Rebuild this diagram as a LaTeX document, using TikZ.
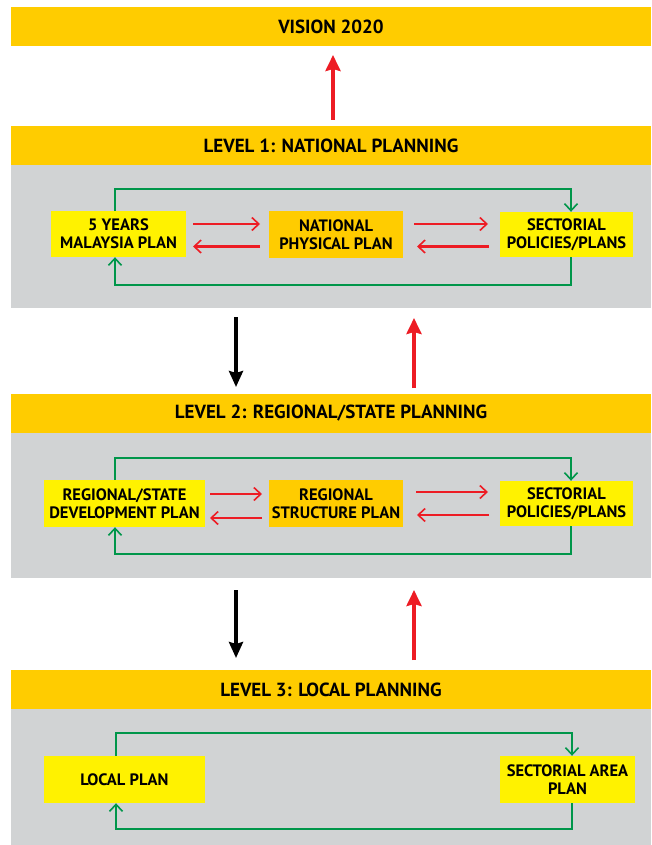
\documentclass[tikz,border=0pt]{standalone}
\usepackage{fontspec}
\setmainfont{PT Sans}
\usetikzlibrary{arrows.meta}
\definecolor{gold}{HTML}{FFCC00}
\definecolor{ylw}{HTML}{FFF200}
\definecolor{panel}{HTML}{D1D3D4}
\definecolor{grn}{HTML}{00964A}
\definecolor{rd}{HTML}{ED1C24}
\begin{document}
\begin{tikzpicture}[x=1pt,y=-1pt,
  header/.style={fill=gold,minimum width=640pt,minimum height=39pt,inner sep=0pt,font=\bfseries\fontsize{19}{22}\selectfont},
  panelbox/.style={fill=panel},
  planbox/.style={fill=ylw,inner sep=0pt,align=center,font=\bfseries\fontsize{16.5}{18}\selectfont},
  goldbox/.style={planbox,fill=gold},
  gline/.style={draw=grn,line width=2.3pt,-{Straight Barb[length=7pt,width=13pt,line width=1.6pt]}},
  rline/.style={draw=rd,line width=2.3pt,-{Straight Barb[length=7pt,width=13pt,line width=1.6pt]}},
  bigred/.style={draw=rd,line width=4.5pt,-{Stealth[length=16pt,width=15pt,inset=2pt]}},
  bigblack/.style={draw=black,line width=4.5pt,-{Stealth[length=16pt,width=14pt,inset=2pt]}}
]
\useasboundingbox[fill=white] (0,0) rectangle (652,845);
% headers and panels
\node[header] (vision) at (331,27) {VISION 2020};
\node[header] (h1) at (331,145.5) {LEVEL 1: NATIONAL PLANNING};
\fill[panelbox] (11,165) rectangle (651,308);
\node[header] (h2) at (331,413.5) {LEVEL 2: REGIONAL/STATE PLANNING};
\fill[panelbox] (11,433) rectangle (651,578);
\node[header] (h3) at (331,689.5) {LEVEL 3: LOCAL PLANNING};
\fill[panelbox] (11,709) rectangle (651,845);
% level 1
\node[planbox,minimum width=135pt,minimum height=46pt] (a1) at (118.5,234) {5 YEARS\\MALAYSIA PLAN};
\node[goldbox,minimum width=134pt,minimum height=47pt] (a2) at (336,234.5) {NATIONAL\\PHYSICAL PLAN};
\node[planbox,minimum width=133pt,minimum height=45pt] (a3) at (566.5,234.5) {SECTORIAL\\POLICIES/PLANS};
\coordinate (a1t) at (193,224); \coordinate (a2tl) at (260,224);
\coordinate (a1b) at (193,246.5); \coordinate (a2bl) at (260,246.5);
\coordinate (a2tr) at (414,224); \coordinate (a3t) at (488,224);
\coordinate (a2br) at (417,246.5); \coordinate (a3b) at (489,246.5);
\draw[rline] (a1t) -- (a2tl);
\draw[rline] (a2bl) -- (a1b);
\draw[rline] (a2tr) -- (a3t);
\draw[rline] (a3b) -- (a2br);
\coordinate (g1tl) at (115,189); \coordinate (g1tr) at (571,189);
\coordinate (g1bl) at (115,285); \coordinate (g1br) at (571,285);
\draw[gline] (a1.north -| g1tl) -- (g1tl) -- (g1tr) -- (a3.north -| g1tr);
\draw[gline] (a3.south -| g1br) -- (g1br) -- (g1bl) -- (a1.south -| g1bl);
% between level 1 and vision / level 2
\coordinate (v0) at (333,120); \coordinate (v1) at (333,55);
\draw[bigred] (v0) -- (v1);
\coordinate (d1s) at (236,317); \coordinate (d1e) at (236,387);
\draw[bigblack] (d1s) -- (d1e);
\coordinate (u1s) at (414,388); \coordinate (u1e) at (414,318);
\draw[bigred] (u1s) -- (u1e);
% level 2
\node[planbox,minimum width=161pt,minimum height=47pt] (b1) at (124.5,503.5) {REGIONAL/STATE\\DEVELOPMENT PLAN};
\node[goldbox,minimum width=134pt,minimum height=47pt] (b2) at (336,503.5) {REGIONAL\\STRUCTURE PLAN};
\node[planbox,minimum width=133pt,minimum height=45pt] (b3) at (566.5,503.5) {SECTORIAL\\POLICIES/PLANS};
\coordinate (b1t) at (210,494); \coordinate (b2tl) at (262,494);
\coordinate (b1b) at (210,518); \coordinate (b2bl) at (262,518);
\coordinate (b2tr) at (416,492); \coordinate (b3t) at (488,492);
\coordinate (b2br) at (417,515); \coordinate (b3b) at (489,515);
\draw[rline] (b1t) -- (b2tl);
\draw[rline] (b2bl) -- (b1b);
\draw[rline] (b2tr) -- (b3t);
\draw[rline] (b3b) -- (b2br);
\coordinate (g2tl) at (115,458); \coordinate (g2tr) at (571,458);
\coordinate (g2bl) at (115,554); \coordinate (g2br) at (571,554);
\draw[gline] (b1.north -| g2tl) -- (g2tl) -- (g2tr) -- (b3.north -| g2tr);
\draw[gline] (b3.south -| g2br) -- (g2br) -- (g2bl) -- (b1.south -| g2bl);
% between level 2 and level 3
\coordinate (d2s) at (236,590); \coordinate (d2e) at (236,658);
\draw[bigblack] (d2s) -- (d2e);
\coordinate (u2s) at (414,660); \coordinate (u2e) at (414,590);
\draw[bigred] (u2s) -- (u2e);
% level 3
\node[planbox,minimum width=161pt,minimum height=47pt] (c1) at (124.5,779.5) {LOCAL PLAN};
\node[planbox,minimum width=135pt,minimum height=47pt] (c2) at (567.5,779.5) {SECTORIAL AREA\\PLAN};
\coordinate (g3tl) at (116,733); \coordinate (g3tr) at (572,733);
\coordinate (g3bl) at (116,829); \coordinate (g3br) at (572,829);
\draw[gline] (c1.north -| g3tl) -- (g3tl) -- (g3tr) -- (c2.north -| g3tr);
\draw[gline] (c2.south -| g3br) -- (g3br) -- (g3bl) -- (c1.south -| g3bl);
\end{tikzpicture}
\end{document}
